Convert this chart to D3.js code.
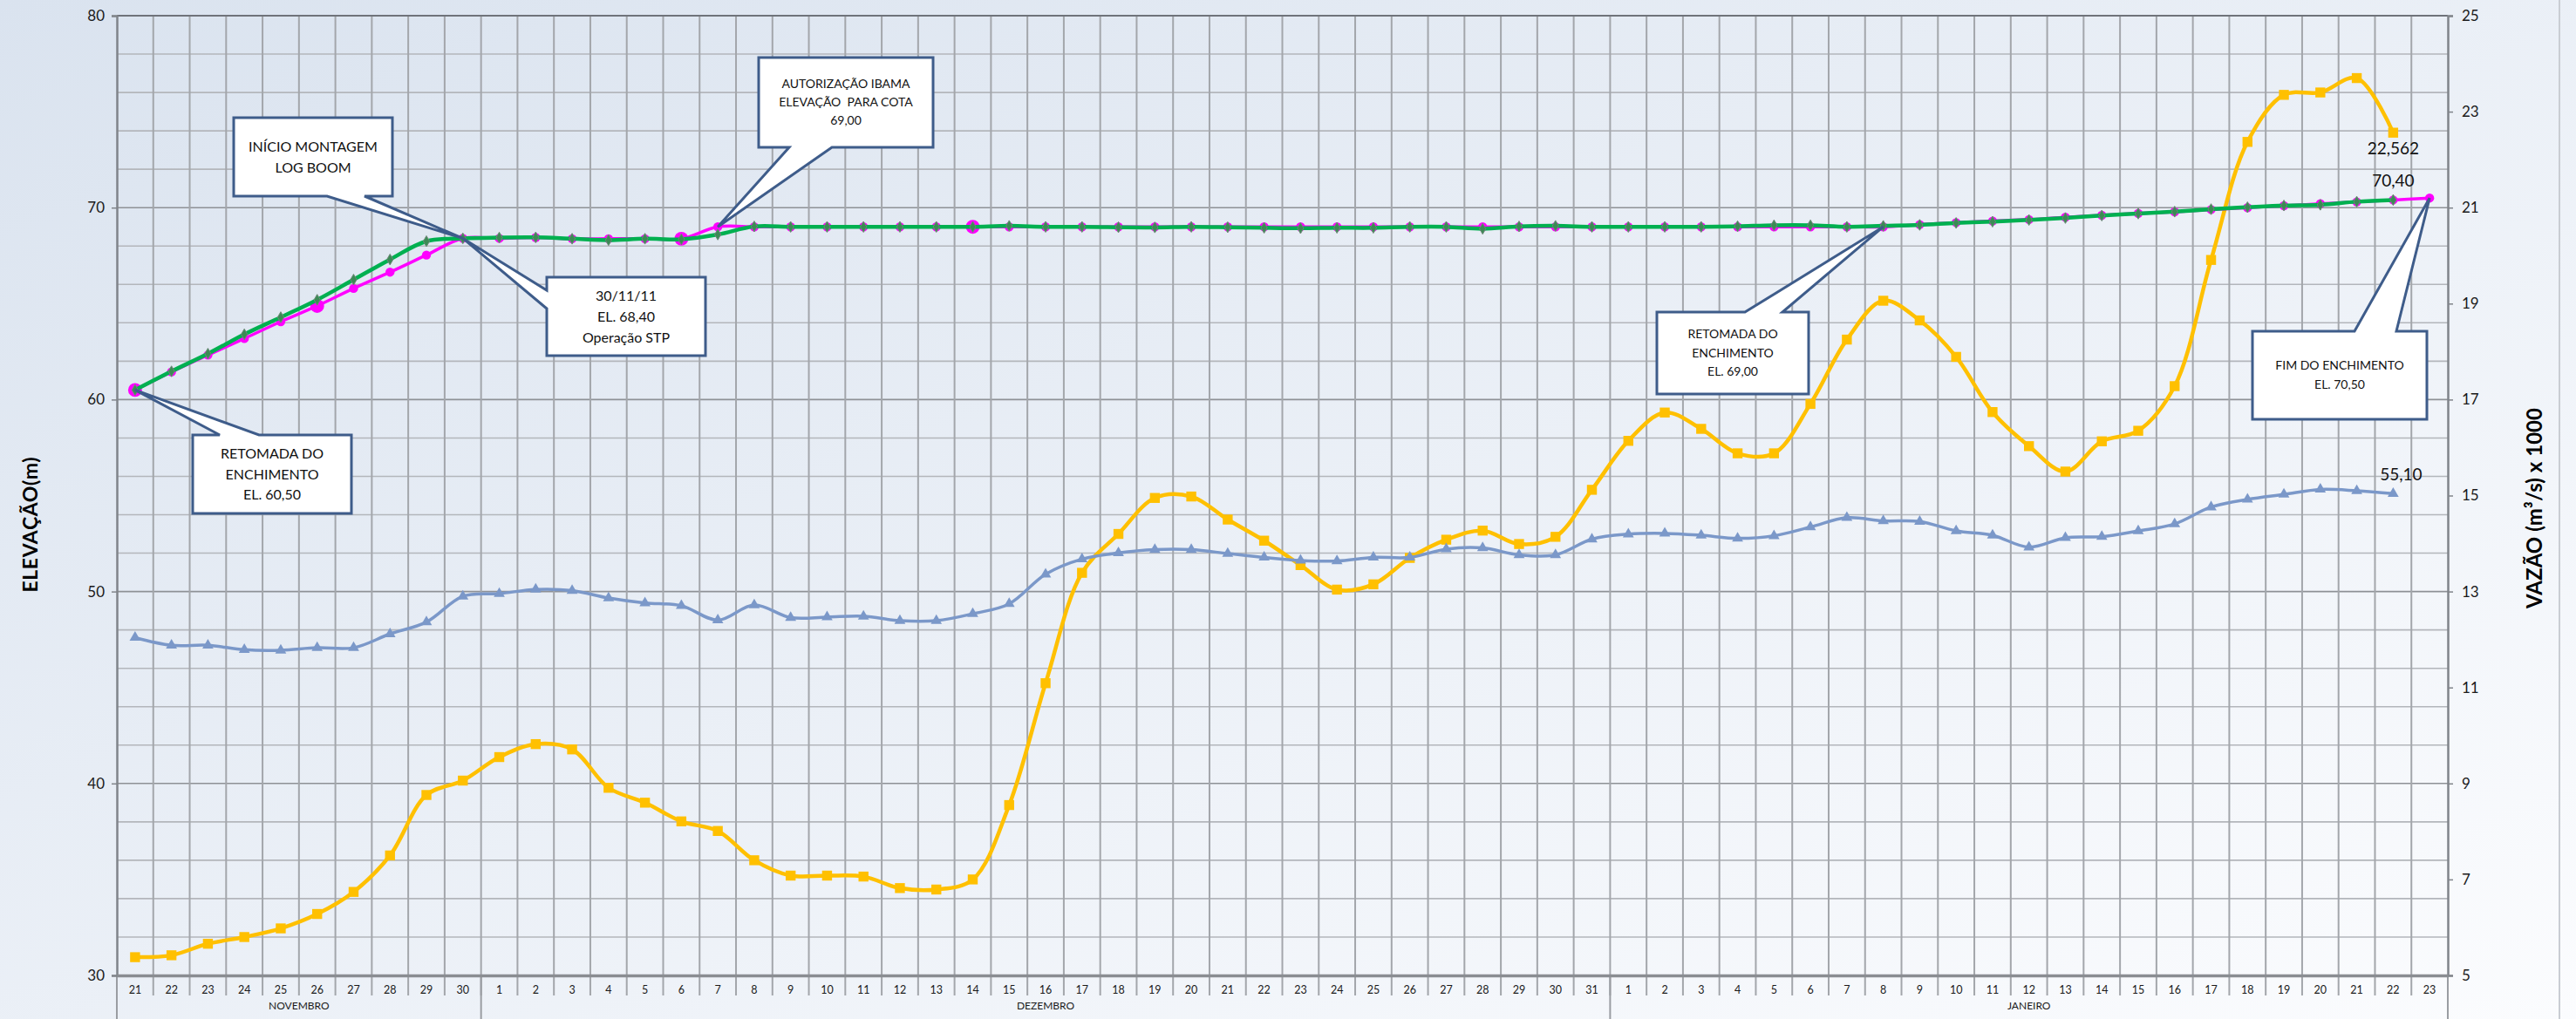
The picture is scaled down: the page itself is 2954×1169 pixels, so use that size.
<!DOCTYPE html>
<html>
<head>
<meta charset="utf-8">
<script src="https://cdn.jsdelivr.net/npm/d3@7"></script>
<style>
html, body { margin: 0; padding: 0; background: #fff; }
svg { display: block; font-family: Lato, "Noto Sans", sans-serif; }
</style>
</head>
<body>
<svg id="chart" width="2954" height="1169"></svg>
<script>
// categorias (dias) e meses do eixo X
var dias = ["21","22","23","24","25","26","27","28","29","30",
  "1","2","3","4","5","6","7","8","9","10","11","12","13","14","15","16",
  "17","18","19","20","21","22","23","24","25","26","27","28","29","30","31",
  "1","2","3","4","5","6","7","8","9","10","11","12","13","14","15","16",
  "17","18","19","20","21","22","23"];
var meses = ["NOVEMBRO", "DEZEMBRO", "JANEIRO"];
var diasPorMes = [10, 31, 23];

// elevacao do reservatorio (m) - linha magenta
var cotaPrevista = [60.50, 61.44, 62.32, 63.18, 64.06, 64.88, 65.79, 66.64, 67.53, 68.40,
  68.40, 68.44, 68.38, 68.38, 68.38, 68.38, 69.00, 69.00, 69.00, 69.00, 69.00, 69.00, 69.00, 69.00,
  69.00, 69.00, 69.00, 69.00, 69.00, 69.00, 69.00, 69.00, 69.00, 69.00, 69.00, 69.00, 69.00, 69.00,
  69.00, 69.00, 69.00,
  69.00, 69.00, 69.00, 69.00, 69.00, 69.00, 69.00, 69.00, 69.12, 69.22, 69.30, 69.38, 69.50, 69.60,
  69.70, 69.78, 69.90, 70.00, 70.10, 70.20, 70.30, 70.40, 70.50];
// elevacao medida (m) - linha verde
var cotaReal = [60.50, 61.47, 62.39, 63.40, 64.29, 65.20, 66.25, 67.30, 68.25, 68.40,
  68.44, 68.45, 68.38, 68.31, 68.38, 68.35, 68.60, 69.02, 69.00, 69.00, 69.00, 69.00, 69.00, 69.00,
  69.05, 69.00, 69.00, 68.98, 68.97, 69.00, 68.98, 68.95, 68.93, 68.95, 68.95, 69.00, 69.00, 68.90,
  69.02, 69.05, 69.00,
  69.00, 69.00, 69.00, 69.03, 69.08, 69.08, 69.00, 69.05, 69.10, 69.20, 69.27, 69.36, 69.46, 69.59,
  69.69, 69.79, 69.92, 70.02, 70.11, 70.15, 70.31, 70.40, null];
// elevacao a jusante (m) - linha azul
var cotaJusante = [47.60, 47.20, 47.20, 46.97, 46.94, 47.07, 47.07, 47.79, 48.41, 49.75,
  49.89, 50.11, 50.05, 49.66, 49.40, 49.26, 48.51, 49.30, 48.64, 48.67, 48.71, 48.48, 48.48, 48.84,
  49.36, 50.90, 51.69, 52.01, 52.18, 52.18, 51.98, 51.78, 51.62, 51.59, 51.78, 51.78, 52.21, 52.27,
  51.91, 51.91, 52.73,
  52.99, 53.03, 52.93, 52.77, 52.90, 53.36, 53.85, 53.68, 53.65, 53.16, 52.93, 52.31, 52.80, 52.86,
  53.16, 53.52, 54.40, 54.80, 55.06, 55.32, 55.25, 55.10, null];
// vazao (m3/s x 1000) - linha amarela, eixo direito
var vazao = [5.38, 5.42, 5.66, 5.80, 5.98, 6.28, 6.74, 7.50, 8.76, 9.06,
  9.55, 9.82, 9.71, 8.91, 8.60, 8.21, 8.01, 7.40, 7.08, 7.08, 7.06, 6.82, 6.79, 7.00,
  8.55, 11.09, 13.39, 14.20, 14.95, 14.98, 14.50, 14.06, 13.55, 13.04, 13.15, 13.70, 14.08, 14.27,
  13.99, 14.14, 15.12,
  16.14, 16.73, 16.39, 15.88, 15.88, 16.91, 18.25, 19.06, 18.65, 17.89, 16.74, 16.03, 15.50, 16.13,
  16.35, 17.28, 19.91, 22.37, 23.35, 23.40, 23.70, 22.562, null];

var ticksEsq = [30, 40, 50, 60, 70, 80];
var ticksDir = [5, 7, 9, 11, 13, 15, 17, 19, 21, 23, 25];

var svg = d3.select("#chart"),
    W = +svg.attr("width"),
    H = +svg.attr("height");
var esq = 134, dir = 2807, topo = 18, base = 1119;

var br = d3.formatLocale({decimal: ",", thousands: ".", grouping: [3], currency: ["R$", ""]});

var x = d3.scaleBand().domain(d3.range(dias.length)).range([esq, dir]).padding(0);
var bw = x.bandwidth();
var cx = function (i) { return x(i) + bw / 2; };
var yL = d3.scaleLinear().domain([30, 80]).range([base, topo]);
var yR = d3.scaleLinear().domain([5, 25]).range([base, topo]);

// fundo em degrade
var defs = svg.append("defs");
var grad = defs.append("linearGradient").attr("id", "fundo")
    .attr("x1", 0).attr("y1", 0).attr("x2", 1).attr("y2", 1);
grad.append("stop").attr("offset", "0%").attr("stop-color", "#dae3ef");
grad.append("stop").attr("offset", "100%").attr("stop-color", "#fbfcfe");
svg.append("rect").attr("width", W).attr("height", H).attr("fill", "url(#fundo)");
svg.append("line").attr("x1", 2935).attr("x2", 2935).attr("y1", 0).attr("y2", H)
    .attr("stroke", "#c9cdd3").attr("stroke-width", 2);

// grade horizontal (a cada 2 m) e vertical (a cada dia)
var grade = svg.append("g");
grade.selectAll(".gh").data(d3.range(32, 80, 2)).enter().append("line")
    .attr("x1", esq).attr("x2", dir)
    .attr("y1", function (d) { return yL(d); }).attr("y2", function (d) { return yL(d); })
    .attr("stroke", function (d) { return d % 10 == 0 ? "#8e9196" : "#b3b6bb"; })
    .attr("stroke-width", 1.6);
grade.selectAll(".gv").data(d3.range(1, dias.length)).enter().append("line")
    .attr("x1", function (i) { return x(i); }).attr("x2", function (i) { return x(i); })
    .attr("y1", topo).attr("y2", base + 23)
    .attr("stroke", "#a3a6ab").attr("stroke-width", 2);
grade.append("line").attr("x1", esq).attr("x2", dir).attr("y1", topo).attr("y2", topo)
    .attr("stroke", "#6f737a").attr("stroke-width", 2);

// separadores dos meses
var acum = [0];
diasPorMes.forEach(function (n, k) { acum.push(acum[k] + n); });
svg.selectAll(".sep").data(acum).enter().append("line")
    .attr("x1", function (i) { return i < dias.length ? x(i) : dir; })
    .attr("x2", function (i) { return i < dias.length ? x(i) : dir; })
    .attr("y1", base).attr("y2", H)
    .attr("stroke", "#9a9da2").attr("stroke-width", 2);

// eixos
var eixoEsq = svg.append("g").attr("transform", "translate(" + esq + ",0)")
    .call(d3.axisLeft(yL).tickValues(ticksEsq).tickSize(6).tickPadding(8));
var eixoDir = svg.append("g").attr("transform", "translate(" + dir + ",0)")
    .call(d3.axisRight(yR).tickValues(ticksDir).tickSize(6).tickPadding(10));
[eixoEsq, eixoDir].forEach(function (g) {
  g.select(".domain").attr("stroke", "#80848a").attr("stroke-width", 2.5);
  g.selectAll(".tick line").attr("stroke", "#80848a").attr("stroke-width", 1.5);
  g.selectAll("text").attr("font-size", 17).attr("fill", "#1a1a1a")
      .attr("font-family", "Lato, sans-serif");
});
var eixoX = svg.append("g").attr("transform", "translate(0," + base + ")")
    .call(d3.axisBottom(x).tickSize(0).tickPadding(12).tickFormat(function (i) { return dias[i]; }));
eixoX.select(".domain").attr("stroke", "#8a8d92").attr("stroke-width", 3.5);
eixoX.selectAll("text").attr("font-size", 12.5).attr("fill", "#1a1a1a")
    .attr("font-family", "Lato, sans-serif");

svg.selectAll(".mes").data(meses).enter().append("text")
    .attr("x", function (d, k) { return (x(acum[k]) + (acum[k + 1] < dias.length ? x(acum[k + 1]) : dir)) / 2; })
    .attr("y", 1154).attr("dy", "0.35em").attr("text-anchor", "middle")
    .attr("font-size", 12).attr("fill", "#1a1a1a").text(function (d) { return d; });

// titulos dos eixos
svg.append("text").attr("transform", "translate(35,602) rotate(-90)")
    .attr("text-anchor", "middle").attr("dy", "0.35em")
    .attr("font-size", 23).attr("font-weight", "bold")
    .attr("textLength", 155).attr("lengthAdjust", "spacing").text("ELEVAÇÃO(m)");
svg.append("text").attr("transform", "translate(2907,583) rotate(-90)")
    .attr("text-anchor", "middle").attr("dy", "0.35em")
    .attr("font-size", 24).attr("font-weight", "bold")
    .attr("textLength", 230).attr("lengthAdjust", "spacing").text("VAZÃO (m³/s) x 1000");

// linhas
function serie(dados, escala, cor, largura) {
  var linha = d3.line()
      .defined(function (d) { return d != null; })
      .x(function (d, i) { return cx(i); })
      .y(function (d) { return escala(d); })
      .curve(d3.curveCatmullRom.alpha(0.5));
  svg.append("path").datum(dados).attr("d", linha)
      .attr("fill", "none").attr("stroke", cor).attr("stroke-width", largura)
      .attr("stroke-linejoin", "round");
}
function marcadores(dados, escala, tipo, tam, cor, borda) {
  svg.append("g").selectAll("path")
      .data(dados.map(function (d, i) { return [i, d]; }).filter(function (p) { return p[1] != null; }))
      .enter().append("path")
      .attr("transform", function (p) { return "translate(" + cx(p[0]) + "," + escala(p[1]) + ")"; })
      .attr("d", function (p) { return d3.symbol(tipo, typeof tam == "function" ? tam(p[0]) : tam)(); })
      .attr("fill", cor).attr("stroke", borda || "none").attr("stroke-width", 1);
}

var destaques = [0, 5, 15, 23];

serie(vazao, yR, "#ffc000", 4.5);
marcadores(vazao, yR, d3.symbolSquare, 130, "#ffc000");
serie(cotaJusante, yL, "#7b98c9", 3.5);
marcadores(cotaJusante, yL, d3.symbolTriangle, 70, "#7b98c9");
serie(cotaPrevista, yL, "#ff00ff", 3.5);
marcadores(cotaPrevista, yL, d3.symbolCircle, function (i) { return destaques.indexOf(i) >= 0 ? 200 : 85; }, "#ff00ff");
serie(cotaReal, yL, "#00b050", 4.5);
marcadores(cotaReal, yL, d3.symbolDiamond, 45, "#3b8a55", "#6e8a78");

// rotulos de dados
var ult = 62;
var rotulos = [
  {v: vazao[ult], fmt: ",.3f", y: yR(vazao[ult]) + 18, dx: 0},
  {v: cotaReal[ult], fmt: ",.2f", y: yL(cotaReal[ult]) - 22, dx: 0},
  {v: cotaJusante[ult], fmt: ",.2f", y: yL(cotaJusante[ult]) - 22, dx: 9}
];
svg.selectAll(".rot").data(rotulos).enter().append("text")
    .attr("x", function (d) { return cx(ult) + d.dx; }).attr("y", function (d) { return d.y; })
    .attr("dy", "0.35em").attr("text-anchor", "middle").attr("font-size", 19).attr("fill", "#111")
    .text(function (d) { return br.format(d.fmt)(d.v); });

// balões de anotação
var baloes = [
  {linhas: ["INÍCIO MONTAGEM", "LOG BOOM"], box: [268, 135, 182, 90], lado: "bottom", a: 375, b: 418, idx: 9, fs: 16, lh: 24},
  {linhas: ["30/11/11", "EL. 68,40", "Operação STP"], box: [627, 318, 182, 90], lado: "left", a: 333, b: 354, idx: 9, fs: 16, lh: 24},
  {linhas: ["AUTORIZAÇÃO IBAMA", "ELEVAÇÃO  PARA COTA", "69,00"], box: [870, 66, 200, 103], lado: "bottom", a: 905, b: 954, idx: 16, fs: 14, lh: 21},
  {linhas: ["RETOMADA DO", "ENCHIMENTO", "EL. 60,50"], box: [221, 499, 182, 90], lado: "top", a: 252, b: 297, idx: 0, fs: 16, lh: 23.5},
  {linhas: ["RETOMADA DO", "ENCHIMENTO", "EL. 69,00"], box: [1900, 358, 174, 94], lado: "top", a: 2001, b: 2044, idx: 48, fs: 14, lh: 21.5},
  {linhas: ["FIM DO ENCHIMENTO", "EL. 70,50"], box: [2583, 380, 200, 101], lado: "top", a: 2700, b: 2748, idx: 63, fs: 14, lh: 22}
];
baloes.forEach(function (c) {
  var x0 = c.box[0], y0 = c.box[1], x1 = x0 + c.box[2], y1 = y0 + c.box[3];
  var tx = cx(c.idx), ty = yL(cotaPrevista[c.idx]);
  var p = d3.path();
  p.moveTo(x0, y0);
  if (c.lado == "top") { p.lineTo(c.a, y0); p.lineTo(tx, ty); p.lineTo(c.b, y0); }
  p.lineTo(x1, y0); p.lineTo(x1, y1);
  if (c.lado == "bottom") { p.lineTo(c.b, y1); p.lineTo(tx, ty); p.lineTo(c.a, y1); }
  p.lineTo(x0, y1);
  if (c.lado == "left") { p.lineTo(x0, c.b); p.lineTo(tx, ty); p.lineTo(x0, c.a); }
  p.closePath();
  svg.append("path").attr("d", p.toString()).attr("fill", "#fff")
      .attr("stroke", "#3e5c8a").attr("stroke-width", 3).attr("stroke-linejoin", "miter");
  var cy = (y0 + y1) / 2 - (c.linhas.length - 1) / 2 * c.lh;
  svg.append("text").attr("text-anchor", "middle").attr("font-size", c.fs).attr("fill", "#111")
      .style("white-space", "pre")
      .selectAll("tspan").data(c.linhas).enter().append("tspan")
      .attr("x", (x0 + x1) / 2).attr("y", function (d, k) { return cy + k * c.lh; })
      .attr("dy", "0.35em").text(function (d) { return d; });
});
</script>
</body>
</html>
